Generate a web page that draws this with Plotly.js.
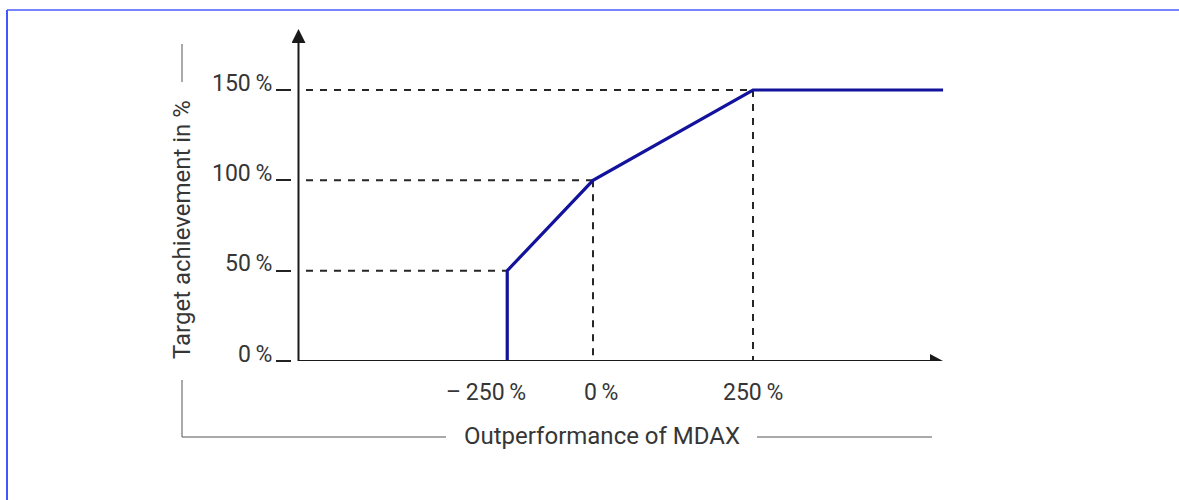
<!DOCTYPE html>
<html><head><meta charset="utf-8">
<script src="https://cdn.plot.ly/plotly-3.0.1.min.js"></script>
<style>html,body{margin:0;padding:0;background:#fff}#chart{width:1179px;height:500px}</style>
</head><body><div id="chart"></div>
<script>
// ---------------- data ----------------
const targetTickValues = [0, 50, 100, 150];
const targetTickLabels = ['0\u2009%', '50\u2009%', '100\u2009%', '150\u2009%'];
const outperfTickLabels = ['\u2013\u2009250\u2009%', '0\u2009%', '250\u2009%'];
// schematic axis positions of the outperformance ticks (drawn axis is not to scale)
const outperfTickPos = [-134, 0, 250];
// payout curve (x = schematic outperformance position, y = target achievement in %)
const curveX = [-134, -134, 0, 250, 547];
const curveY = [0, 50, 100, 150, 150];

// ---------------- layout geometry ----------------
const W = 1179, Hh = 500;
const L = 292, Rpx = 960, T = 20, B = 361;
const kx = 0.64, x0px = 593, ky = 1.8067, y0px = 361;
const xd = px => (px - x0px) / kx;
const yd = py => (y0px - py) / ky;
const xp = px => (px - L) / (Rpx - L);
const yp = py => (B - py) / (B - T);

const txt = '#363636';
const FONT = 'Roboto, "DejaVu Sans", sans-serif';
const FS = 23;
const FT = 24;

// dashed guide lines built from the curve's break points
const gx = [], gy = [];
const dashStart = xd(306);
for (let i = 1; i < targetTickValues.length; i++) {
  const px = outperfTickPos[i - 1], py = targetTickValues[i];
  gx.push(dashStart, px, null); gy.push(py, py, null);
  if (i >= 2) { gx.push(px, px, null); gy.push(py, 0, null); }
}

const traces = [
  {x: gx, y: gy, mode: 'lines', line: {color: '#262626', width: 2, dash: '7px,7px'},
   hoverinfo: 'skip', cliponaxis: false, connectgaps: false},
  {x: curveX, y: curveY, mode: 'lines', line: {color: '#12129c', width: 3.2},
   cliponaxis: false, hoverinfo: 'skip'}
];

const shapes = [
  // frame
  {type: 'line', xref: 'paper', yref: 'paper', x0: xp(7), x1: xp(1185), y0: yp(10), y1: yp(10), line: {color: '#7885ff', width: 2}},
  {type: 'line', xref: 'paper', yref: 'paper', x0: xp(7), x1: xp(7), y0: yp(10), y1: yp(505), line: {color: '#4455ff', width: 2}},
  // axes
  {type: 'line', xref: 'x', yref: 'y', x0: xd(298.5), x1: xd(298.5), y0: 0, y1: yd(40), line: {color: '#1a1a1a', width: 2}},
  {type: 'line', xref: 'x', yref: 'y', x0: xd(298), x1: xd(932), y0: 0, y1: 0, line: {color: '#1a1a1a', width: 2}},
  {type: 'path', xref: 'x', yref: 'y', xsizemode: 'pixel', ysizemode: 'pixel', xanchor: xd(298.5), yanchor: yd(29),
   path: 'M-7,-14 L7,-14 L0,0 Z', fillcolor: '#1a1a1a', line: {width: 0}},
  {type: 'path', xref: 'x', yref: 'y', xsizemode: 'pixel', ysizemode: 'pixel', xanchor: xd(943), yanchor: 0,
   path: 'M-13,-7 L-13,7 L0,0 Z', fillcolor: '#1a1a1a', line: {width: 0}},
  // axis-title brackets
  {type: 'line', xref: 'paper', yref: 'paper', x0: xp(182), x1: xp(182), y0: yp(44), y1: yp(82), line: {color: '#555', width: 1}},
  {type: 'line', xref: 'paper', yref: 'paper', x0: xp(182), x1: xp(182), y0: yp(380), y1: yp(437), line: {color: '#555', width: 1}},
  {type: 'line', xref: 'paper', yref: 'paper', x0: xp(182), x1: xp(446), y0: yp(437), y1: yp(437), line: {color: '#555', width: 1}},
  {type: 'line', xref: 'paper', yref: 'paper', x0: xp(757), x1: xp(932), y0: yp(437), y1: yp(437), line: {color: '#555', width: 1}}
];

const annotations = [];
targetTickValues.forEach((v, i) => annotations.push({
  xref: 'paper', yref: 'y', x: xp(274), y: v, xanchor: 'right', yanchor: 'middle', yshift: 7,
  text: targetTickLabels[i], showarrow: false, font: {family: FONT, size: FS, color: txt}
}));
const xLabelShift = [-21, 8, 0];
outperfTickPos.forEach((v, i) => annotations.push({
  xref: 'x', yref: 'y', x: v, y: 0, xanchor: 'center', yanchor: 'middle', yshift: -31, xshift: xLabelShift[i],
  text: outperfTickLabels[i], showarrow: false, font: {family: FONT, size: FS, color: txt}
}));
annotations.push({xref: 'paper', yref: 'paper', x: xp(182), y: yp(230), textangle: -90,
  text: 'Target achievement in %', showarrow: false, xanchor: 'center', yanchor: 'middle',
  font: {family: FONT, size: FT, color: txt}});
annotations.push({xref: 'paper', yref: 'paper', x: xp(601.5), y: yp(436),
  text: 'Outperformance of MDAX', showarrow: false, xanchor: 'center', yanchor: 'middle',
  font: {family: FONT, size: FT, color: txt}});

const layout = {
  width: W, height: Hh,
  margin: {l: L, r: W - Rpx, t: T, b: Hh - B, pad: 0, autoexpand: false},
  paper_bgcolor: '#fff', plot_bgcolor: 'rgba(0,0,0,0)',
  showlegend: false,
  xaxis: {range: [xd(L), xd(Rpx)], showgrid: false, zeroline: false, showline: false,
          showticklabels: false, ticks: '', fixedrange: true, automargin: false},
  yaxis: {range: [0, yd(T)], tickvals: targetTickValues, showgrid: false, zeroline: false, showline: false,
          showticklabels: false, ticks: 'outside', ticklen: 15, tickwidth: 2, tickcolor: '#222',
          fixedrange: true, automargin: false},
  shapes: shapes, annotations: annotations,
  font: {family: FONT, color: txt}
};
Plotly.newPlot('chart', traces, layout, {displayModeBar: false, staticPlot: true});
</script></body></html>
